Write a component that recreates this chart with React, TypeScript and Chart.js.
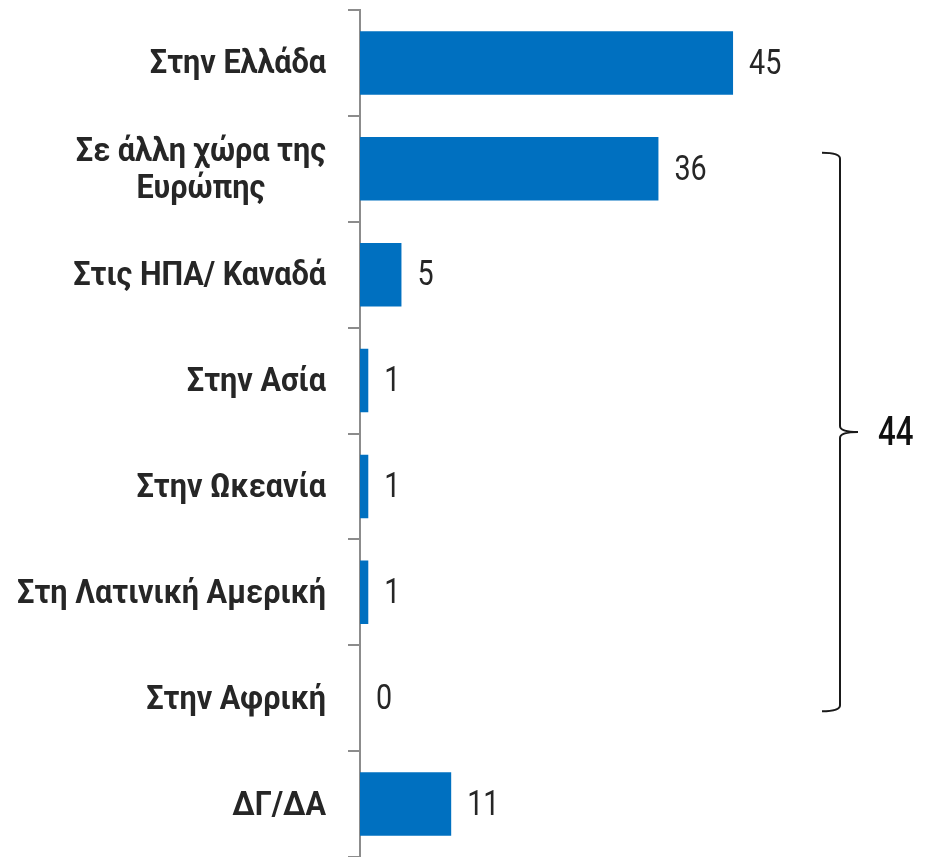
import React, { useEffect, useRef } from "react";
import { Chart, registerables } from "chart.js";

Chart.register(...registerables);

const CATEGORIES: (string | string[])[] = [
  "Στην Ελλάδα",
  ["Σε άλλη χώρα της", "Ευρώπης"],
  "Στις ΗΠΑ/ Καναδά",
  "Στην Ασία",
  "Στην Ωκεανία",
  "Στη Λατινική Αμερική",
  "Στην Αφρική",
  "ΔΓ/ΔΑ",
];
const VALUES: number[] = [45, 36, 5, 1, 1, 1, 0, 11];
const BRACE_FROM = 1;
const BRACE_TO = 6;
const BRACE_TOTAL = "44";

const BAR_COLOR = "#0070C0";
const AXIS_COLOR = "#8c8c8c";
const TEXT_COLOR = "#262626";
const FONT = "Roboto, 'Noto Sans', sans-serif";

const labelPlugin = {
  id: "customLabels",
  afterDraw(chart: any) {
    const ctx: CanvasRenderingContext2D = chart.ctx;
    const yScale = chart.scales.y;
    const meta = chart.getDatasetMeta(0);
    ctx.save();
    // category labels
    const LSX = 0.9;
    ctx.font = `bold 34px ${FONT}`;
    ctx.fillStyle = TEXT_COLOR;
    ctx.textBaseline = "middle";
    ctx.textAlign = "center";
    const rightEdge = yScale.right - 12 - 22;
    CATEGORIES.forEach((lab, i) => {
      const lines = Array.isArray(lab) ? lab : [lab];
      const yc = yScale.getPixelForValue(i) + 2;
      const maxW = Math.max(...lines.map((l) => ctx.measureText(l).width * LSX));
      const cx = rightEdge - maxW / 2;
      const lh = 37;
      lines.forEach((l, j) => {
        const y = yc + (j - (lines.length - 1) / 2) * lh;
        ctx.save();
        ctx.translate(cx, y);
        ctx.scale(LSX, 1);
        ctx.fillText(l, 0, 0);
        ctx.restore();
      });
    });
    // value labels
    const VSX = 0.82;
    ctx.font = `35px ${FONT}`;
    ctx.textAlign = "left";
    meta.data.forEach((bar: any, i: number) => {
      ctx.save();
      ctx.translate(bar.x + 16, bar.y + 2);
      ctx.scale(VSX, 1);
      ctx.fillText(String(VALUES[i]), 0, 0);
      ctx.restore();
    });
    // brace
    const top = yScale.getPixelForValue(BRACE_FROM) - 16;
    const bottom = yScale.getPixelForValue(BRACE_TO) + 13;
    const mid = (top + bottom) / 2;
    const bx = 840;
    const hook = 18;
    const r = 6;
    ctx.strokeStyle = "#1a1a1a";
    ctx.lineWidth = 2;
    ctx.beginPath();
    ctx.moveTo(bx - hook, top);
    ctx.quadraticCurveTo(bx, top, bx, top + r);
    ctx.lineTo(bx, mid - r);
    ctx.quadraticCurveTo(bx, mid, bx + hook, mid);
    ctx.moveTo(bx + hook, mid);
    ctx.quadraticCurveTo(bx, mid, bx, mid + r);
    ctx.lineTo(bx, bottom - r);
    ctx.quadraticCurveTo(bx, bottom, bx - hook, bottom);
    ctx.stroke();
    ctx.fillStyle = "#111";
    ctx.font = `500 40px ${FONT}`;
    ctx.save();
    ctx.translate(bx + 38, mid + 3);
    ctx.scale(0.78, 1);
    ctx.fillText(BRACE_TOTAL, 0, 0);
    ctx.restore();
    ctx.restore();
  },
};

export default function App() {
  const ref = useRef<HTMLCanvasElement | null>(null);
  useEffect(() => {
    if (!ref.current) return;
    const chart = new Chart(ref.current, {
      type: "bar",
      data: {
        labels: CATEGORIES as any,
        datasets: [
          {
            data: VALUES,
            backgroundColor: BAR_COLOR,
            borderWidth: 0,
            barPercentage: 0.6,
            categoryPercentage: 1,
          },
        ],
      },
      options: {
        indexAxis: "y",
        responsive: false,
        animation: false,
        layout: { padding: { top: 10, bottom: -4, left: 0, right: 155.5 } },
        plugins: { legend: { display: false }, tooltip: { enabled: false } },
        scales: {
          x: { display: false, min: 0, max: 50 },
          y: {
            grid: {
              drawOnChartArea: false,
              drawTicks: true,
              tickLength: 12,
              color: AXIS_COLOR,
              lineWidth: 2,
              offset: true,
            },
            border: { display: true, color: AXIS_COLOR, width: 2 },
            ticks: { display: false },
            afterFit: (s: any) => {
              s.width = 360;
            },
          },
        },
      } as any,
      plugins: [labelPlugin],
    });
    return () => chart.destroy();
  }, []);
  return (
    <div style={{ position: "absolute", left: 0, top: 0, width: 930, height: 857, overflow: "hidden", background: "#fff" }}>
      <canvas ref={ref} width={930} height={857} style={{ display: "block" }} />
    </div>
  );
}
